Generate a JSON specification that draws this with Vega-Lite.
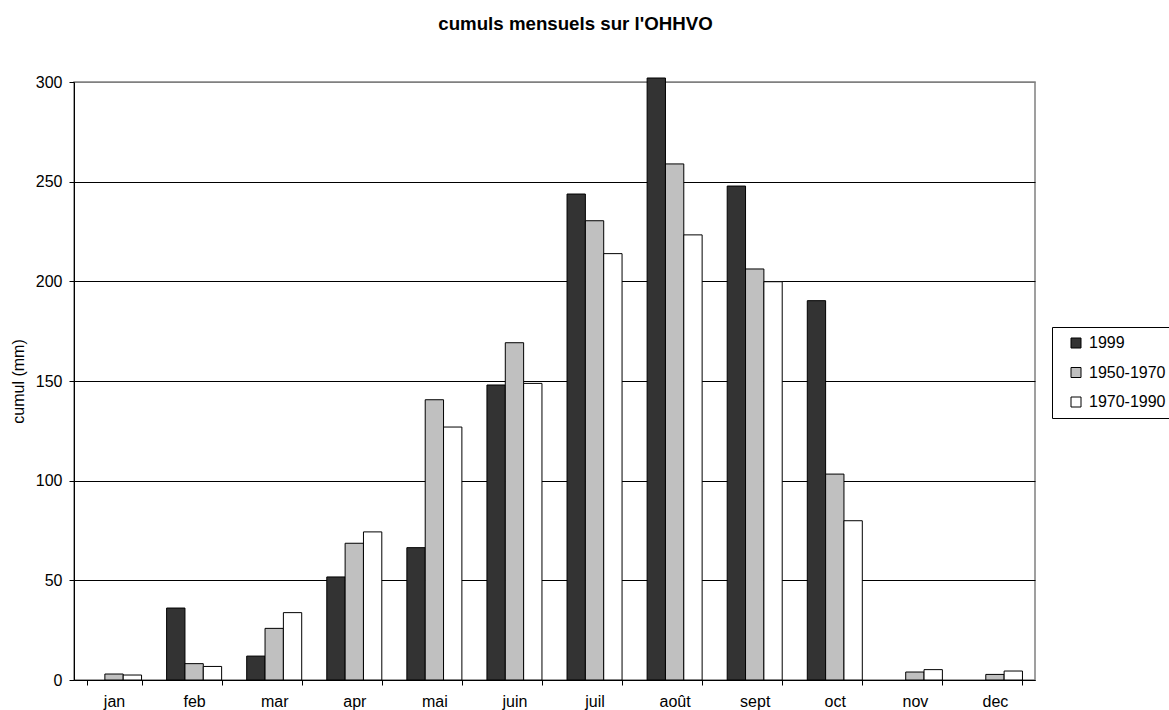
{
  "$schema": "https://vega.github.io/schema/vega-lite/v6.json",
  "autosize": {"type": "none"},
  "padding": {"left": 74, "top": 82, "right": 134, "bottom": 30},
  "width": 961,
  "height": 598,
  "background": "white",
  "title": {
    "text": "cumuls mensuels sur l'OHHVO",
    "font": "Liberation Sans",
    "fontSize": 18.7,
    "fontWeight": "bold",
    "color": "black",
    "anchor": "middle",
    "frame": "group",
    "dx": 21,
    "offset": 40
  },
  "config": {
    "font": "Liberation Sans",
    "view": {"stroke": "#808080", "strokeWidth": 1.5}
  },
  "data": {
    "values": [
      {"mois": "jan", "serie": "1950-1970", "cumul": 3.0},
      {"mois": "jan", "serie": "1970-1990", "cumul": 2.5},
      {"mois": "feb", "serie": "1999", "cumul": 36.1},
      {"mois": "feb", "serie": "1950-1970", "cumul": 8.2},
      {"mois": "feb", "serie": "1970-1990", "cumul": 6.8},
      {"mois": "mar", "serie": "1999", "cumul": 12.0},
      {"mois": "mar", "serie": "1950-1970", "cumul": 25.9},
      {"mois": "mar", "serie": "1970-1990", "cumul": 33.8},
      {"mois": "apr", "serie": "1999", "cumul": 51.7},
      {"mois": "apr", "serie": "1950-1970", "cumul": 68.6},
      {"mois": "apr", "serie": "1970-1990", "cumul": 74.3},
      {"mois": "mai", "serie": "1999", "cumul": 66.4},
      {"mois": "mai", "serie": "1950-1970", "cumul": 140.6},
      {"mois": "mai", "serie": "1970-1990", "cumul": 126.9},
      {"mois": "juin", "serie": "1999", "cumul": 148.0},
      {"mois": "juin", "serie": "1950-1970", "cumul": 169.2},
      {"mois": "juin", "serie": "1970-1990", "cumul": 148.8},
      {"mois": "juil", "serie": "1999", "cumul": 243.8},
      {"mois": "juil", "serie": "1950-1970", "cumul": 230.4},
      {"mois": "juil", "serie": "1970-1990", "cumul": 213.9},
      {"mois": "août", "serie": "1999", "cumul": 302.0},
      {"mois": "août", "serie": "1950-1970", "cumul": 258.9},
      {"mois": "août", "serie": "1970-1990", "cumul": 223.3},
      {"mois": "sept", "serie": "1999", "cumul": 247.8},
      {"mois": "sept", "serie": "1950-1970", "cumul": 206.2},
      {"mois": "sept", "serie": "1970-1990", "cumul": 199.8},
      {"mois": "oct", "serie": "1999", "cumul": 190.3},
      {"mois": "oct", "serie": "1950-1970", "cumul": 103.3},
      {"mois": "oct", "serie": "1970-1990", "cumul": 79.9},
      {"mois": "nov", "serie": "1950-1970", "cumul": 4.0},
      {"mois": "nov", "serie": "1970-1990", "cumul": 5.2},
      {"mois": "dec", "serie": "1950-1970", "cumul": 2.8},
      {"mois": "dec", "serie": "1970-1990", "cumul": 4.5}
    ]
  },
  "mark": {"type": "bar", "stroke": "black", "strokeWidth": 1},
  "encoding": {
    "x": {
      "field": "mois",
      "type": "nominal",
      "sort": ["jan", "feb", "mar", "apr", "mai", "juin", "juil", "août", "sept", "oct", "nov", "dec"],
      "scale": {"paddingInner": 0.313, "paddingOuter": 0.1565},
      "axis": {
        "title": null,
        "labelAngle": 0,
        "labelFontSize": 16,
        "labelColor": "black",
        "labelPadding": 8,
        "tickBand": "extent",
        "tickSize": 5,
        "tickColor": "black",
        "domainColor": "black",
        "domainWidth": 1,
        "grid": false
      }
    },
    "xOffset": {
      "field": "serie",
      "type": "nominal",
      "sort": ["1999", "1950-1970", "1970-1990"],
      "scale": {"domain": ["1999", "1950-1970", "1970-1990"], "paddingInner": 0, "paddingOuter": 0}
    },
    "y": {
      "field": "cumul",
      "type": "quantitative",
      "scale": {"domain": [0, 300], "nice": false},
      "axis": {
        "title": "cumul (mm)",
        "titleFontSize": 16,
        "titleFontWeight": "normal",
        "titleColor": "black",
        "titleAngle": 270,
        "titleX": -56,
        "titleY": 299,
        "titleBaseline": "middle",
        "titleAlign": "center",
        "values": [0, 50, 100, 150, 200, 250, 300],
        "labelFontSize": 16,
        "labelColor": "black",
        "labelPadding": 7,
        "tickSize": 5,
        "tickColor": "black",
        "domainColor": "black",
        "domainWidth": 1,
        "grid": true,
        "gridColor": {"condition": {"test": "datum.value === 300", "value": "#808080"}, "value": "black"},
        "gridWidth": 1,
        "gridOpacity": 1
      }
    },
    "color": {
      "field": "serie",
      "type": "nominal",
      "sort": ["1999", "1950-1970", "1970-1990"],
      "scale": {"domain": ["1999", "1950-1970", "1970-1990"], "range": ["#333333", "#C0C0C0", "#FFFFFF"]},
      "legend": {
        "title": null,
        "orient": "none",
        "legendX": 978,
        "legendY": 245,
        "padding": 8,
        "symbolType": "square",
        "symbolSize": 100,
        "symbolStrokeColor": "black",
        "symbolStrokeWidth": 1,
        "symbolOpacity": 1,
        "symbolOffset": 8,
        "labelFontSize": 16,
        "labelColor": "black",
        "labelOffset": 5,
        "rowPadding": 13.5,
        "strokeColor": "black",
        "fillColor": "white"
      }
    }
  }
}
